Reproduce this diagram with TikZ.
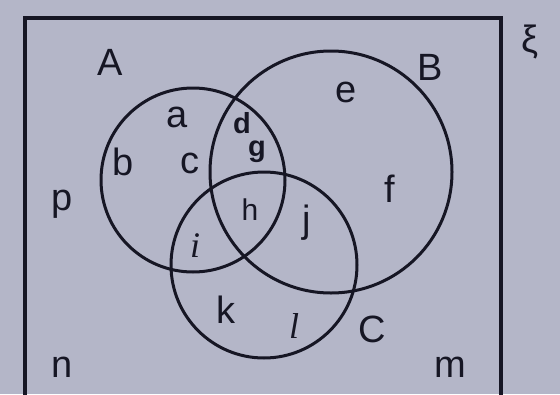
\documentclass[tikz,border=0pt]{standalone}
\usepackage{fontspec}
\setmainfont{Liberation Sans}
\newfontfamily\slfont{Liberation Serif}
\begin{document}
\begin{tikzpicture}[x=1pt,y=-1pt,
  lbl/.style={font=\fontsize{38}{40}\selectfont, inner sep=0pt, anchor=base, text=ink},
  sml/.style={font=\fontsize{30}{32}\selectfont, inner sep=0pt, anchor=base, text=ink},
  smb/.style={font=\fontsize{29}{31}\selectfont\bfseries, inner sep=0pt, anchor=base, text=ink},
  itl/.style={font=\fontsize{36}{38}\selectfont\slfont\itshape, inner sep=0pt, anchor=base, text=ink},
  setline/.style={draw=ink, line width=3pt}]
\definecolor{bg}{RGB}{180,182,200}
\definecolor{ink}{RGB}{22,22,36}
\useasboundingbox (0,0) rectangle (560,394);
\clip (0,0) rectangle (560,394);
\fill[bg] (0,0) rectangle (560,394);
% universal set
\draw[ink, line width=3.5pt] (25,420) -- (25,18) -- (501,18) -- (501,420);
% circles
\node[setline, circle, minimum size=184pt, inner sep=0pt] (SA) at (193,180) {};
\node[setline, circle, minimum size=242pt, inner sep=0pt] (SB) at (331,172) {};
\node[setline, circle, minimum size=186pt, inner sep=0pt] (SC) at (264,265) {};
% labels
\node[lbl] (lA) at (110,75) {A};
\node[lbl] (lB) at (430,80) {B};
\node[lbl, anchor=center] (lxi) at (530,42) {ξ};
\node[lbl] (le) at (346,102) {e};
\node[lbl] (la) at (177,127) {a};
\node[lbl] (lb) at (123,175) {b};
\node[lbl] (lc) at (190,173) {c};
\node[smb] (ld) at (242,133) {d};
\node[smb] (lg) at (257,156) {g};
\node[sml] (lh) at (250,220) {h};
\node[lbl] (lj) at (307,232) {j};
\node[itl] (li) at (195,257) {i};
\node[lbl] (lf) at (390,202) {f};
\node[lbl] (lp) at (62,210) {p};
\node[lbl] (lk) at (226,323) {k};
\node[itl] (ll) at (294,338) {l};
\node[lbl] (lC) at (372,342) {C};
\node[lbl] (ln) at (62,377) {n};
\node[lbl] (lm) at (450,377) {m};
\end{tikzpicture}
\end{document}
